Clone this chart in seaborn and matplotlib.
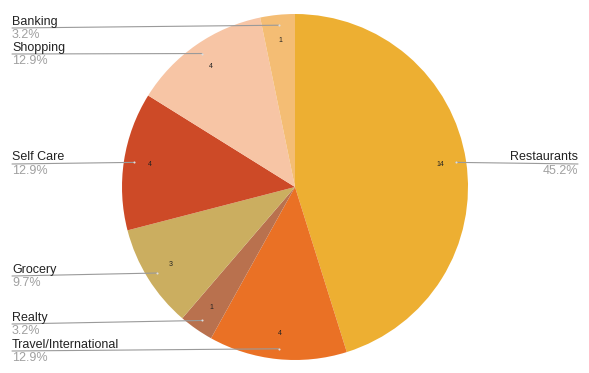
import numpy as np
import matplotlib
matplotlib.use("Agg")
import matplotlib.pyplot as plt
import seaborn as sns

# ── Data ──────────────────────────────────────────────────────────────────────
categories = ["Restaurants", "Travel/International", "Realty", "Grocery",
              "Self Care", "Shopping", "Banking"]
counts = [14, 4, 1, 3, 4, 4, 1]
colors = ["#EDAF32", "#EA7125", "#B9714E", "#CBAE60",
          "#CD4A27", "#F7C5A5", "#F4BD74"]

# label line heights (pixels from top) and side of the chart
label_y_px = [164, 351, 324, 276, 164, 54, 28]
label_side = ["right", "left", "left", "left", "left", "left", "left"]

sns.set_style("white")
plt.rcParams["font.family"] = ["Liberation Sans", "DejaVu Sans"]

W, H, DPI = 589, 373, 100
CX, CY, R = 295, 187, 173   # pie centre and radius in pixels

fig = plt.figure(figsize=(W / DPI, H / DPI), dpi=DPI)
ax = fig.add_axes([0, 0, 1, 1])

wedges, _ = ax.pie(counts, colors=colors, startangle=90, counterclock=False,
                   radius=1, wedgeprops=dict(linewidth=0))
ax.set_aspect("auto")
ax.set_xlim(-CX / R, (W - CX) / R)
ax.set_ylim(-(H - CY) / R, CY / R)
ax.axis("off")


def px2data(px, py):
    return (px - CX) / R, (CY - py) / R


total = sum(counts)
for w, name, n, ly, side in zip(wedges, categories, counts, label_y_px, label_side):
    mid = np.deg2rad((w.theta1 + w.theta2) / 2)
    # value label inside slice
    ax.text(0.85 * np.cos(mid), 0.85 * np.sin(mid), str(n),
            fontsize=5, ha="center", va="center", color="#222222")
    # leader line
    axx, axy = 0.94 * np.cos(mid), 0.94 * np.sin(mid)
    if side == "left":
        tx, ty = px2data(12, ly)
        ha = "left"
    else:
        tx, ty = px2data(578, ly)
        ha = "right"
    ax.plot([axx, tx], [axy, ty], color="#9A9A9A", lw=0.8)
    ax.plot([axx], [axy], marker="o", ms=1.5, color="#DDDDDD", mec="none")
    ax.text(tx, ty + 0.5 / R, name, fontsize=9, ha=ha, va="bottom",
            color="#222222")
    ax.text(tx, ty - 1.0 / R, f"{100 * n / total:.1f}%", fontsize=9,
            ha=ha, va="top", color="#A0A0A0")

fig.savefig("out.png", dpi=DPI)
